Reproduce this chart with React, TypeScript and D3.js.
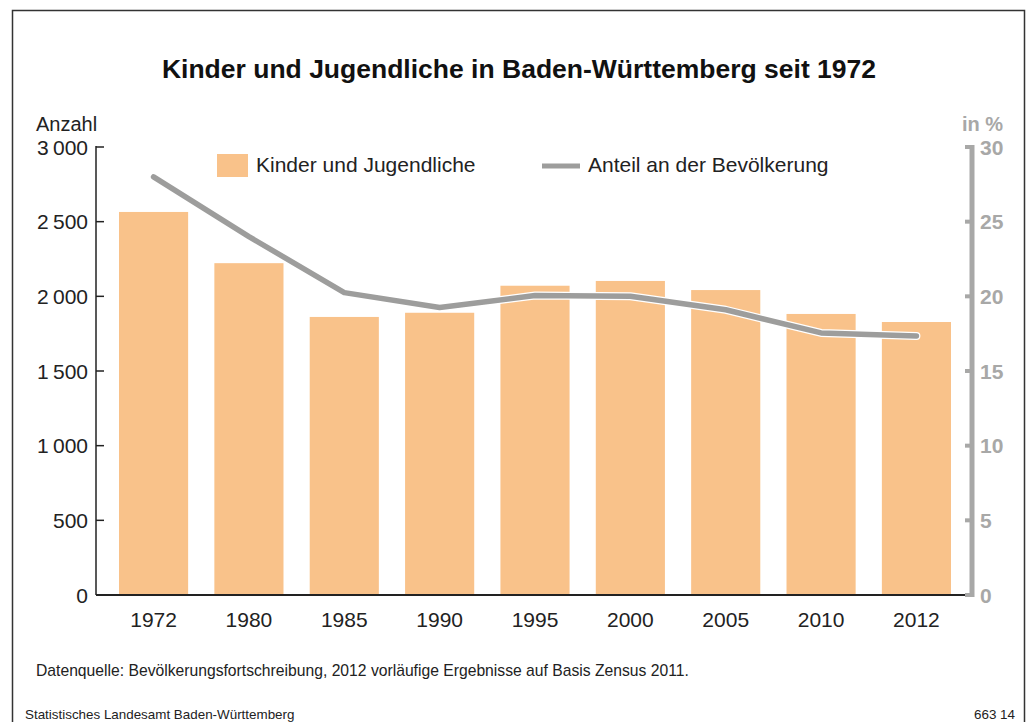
import React from 'react';
import * as d3 from 'd3';

const years = ['1972', '1980', '1985', '1990', '1995', '2000', '2005', '2010', '2012'];
const kinder = [2565, 2222, 1862, 1890, 2071, 2103, 2042, 1882, 1828];
const anteil = [28.0, 24.0, 20.25, 19.25, 20.05, 20.0, 19.1, 17.55, 17.35];
const leftTicks = [0, 500, 1000, 1500, 2000, 2500, 3000];
const rightTicks = [0, 5, 10, 15, 20, 25, 30];

const W = 1032;
const H = 722;
const font = '"Liberation Sans", Arial, sans-serif';
const barColor = '#f9c28a';
const lineColor = '#9d9d9c';
const axisGray = '#a8a8a7';

function App() {
    const x = d3.scaleBand().domain(years).range([119, 951]).paddingInner(0.275).paddingOuter(0);
    const y = d3.scaleLinear().domain([0, 3000]).range([595, 147]);
    const yr = d3.scaleLinear().domain([0, 30]).range([595, 147]);

    const cx = (yy: string) => (x(yy) as number) + x.bandwidth() / 2;

    const line = d3
        .line<number>()
        .x((d, i) => cx(years[i]))
        .y(d => yr(d));

    const fmt = (v: number) => d3.format(',')(v).replace(',', '\u2009');

    return (
        <svg width={W} height={H} style={{ position: 'fixed', left: 0, top: 0, background: '#fff' }} fontFamily={font}>
            {/* frame */}
            <path d={`M12.5,${H + 5} V10.5 H1024.5 V${H + 5}`} fill="none" stroke="#333" strokeWidth={1.5} />

            <text x={519} y={78} textAnchor="middle" fontSize={26.5} fontWeight="bold" fill="#111">
                Kinder und Jugendliche in Baden-Württemberg seit 1972
            </text>

            {/* bars */}
            {kinder.map((v, i) => (
                <rect key={years[i]} x={x(years[i])} y={y(v)} width={x.bandwidth()} height={y(0) - y(v)} fill={barColor} />
            ))}

            {/* line with white halo */}
            <path d={line(anteil) || ''} fill="none" stroke="#fff" strokeWidth={8} strokeLinejoin="round" strokeLinecap="round" />
            <path d={line(anteil) || ''} fill="none" stroke={lineColor} strokeWidth={5.5} strokeLinejoin="round" strokeLinecap="round" />

            {/* left axis */}
            <line x1={96} x2={96} y1={146} y2={595} stroke="#222" strokeWidth={1.5} />
            {leftTicks.map(t => (
                <g key={t}>
                    <line x1={96} x2={104} y1={y(t)} y2={y(t)} stroke="#222" strokeWidth={1.5} />
                    <text x={88} y={y(t) + 7.5} textAnchor="end" fontSize={21} fill="#222">
                        {fmt(t)}
                    </text>
                </g>
            ))}
            <text x={36} y={131} fontSize={20} fill="#222">Anzahl</text>

            {/* bottom axis */}
            <line x1={96} x2={970} y1={595} y2={595} stroke="#222" strokeWidth={2} />
            {years.map(yy => (
                <text key={yy} x={cx(yy)} y={627} textAnchor="middle" fontSize={21} fill="#222">
                    {yy}
                </text>
            ))}

            {/* right axis */}
            <line x1={972} x2={972} y1={145} y2={597} stroke={axisGray} strokeWidth={5} />
            {rightTicks.map(t => (
                <g key={t}>
                    <line x1={965} x2={972} y1={yr(t)} y2={yr(t)} stroke={axisGray} strokeWidth={4} />
                    <text x={980} y={yr(t) + 7.5} fontSize={21} fontWeight="bold" fill={axisGray}>
                        {t}
                    </text>
                </g>
            ))}
            <text x={1003} y={131} textAnchor="end" fontSize={20} fontWeight="bold" fill={axisGray}>in %</text>

            {/* legend */}
            <rect x={217} y={154} width={31} height={23} fill={barColor} />
            <text x={256} y={172} fontSize={21} fill="#222">Kinder und Jugendliche</text>
            <line x1={542} x2={580} y1={166} y2={166} stroke={lineColor} strokeWidth={5} />
            <text x={588} y={172} fontSize={21} fill="#222">Anteil an der Bevölkerung</text>

            <text x={36} y={676} fontSize={15.7} fill="#222">
                Datenquelle: Bevölkerungsfortschreibung, 2012 vorläufige Ergebnisse auf Basis Zensus 2011.
            </text>
            <text x={25} y={719} fontSize={13.4} fill="#222">Statistisches Landesamt Baden-Württemberg</text>
            <text x={1015} y={719} textAnchor="end" fontSize={13.4} fill="#222">663 14</text>
        </svg>
    );
}

export default App;
